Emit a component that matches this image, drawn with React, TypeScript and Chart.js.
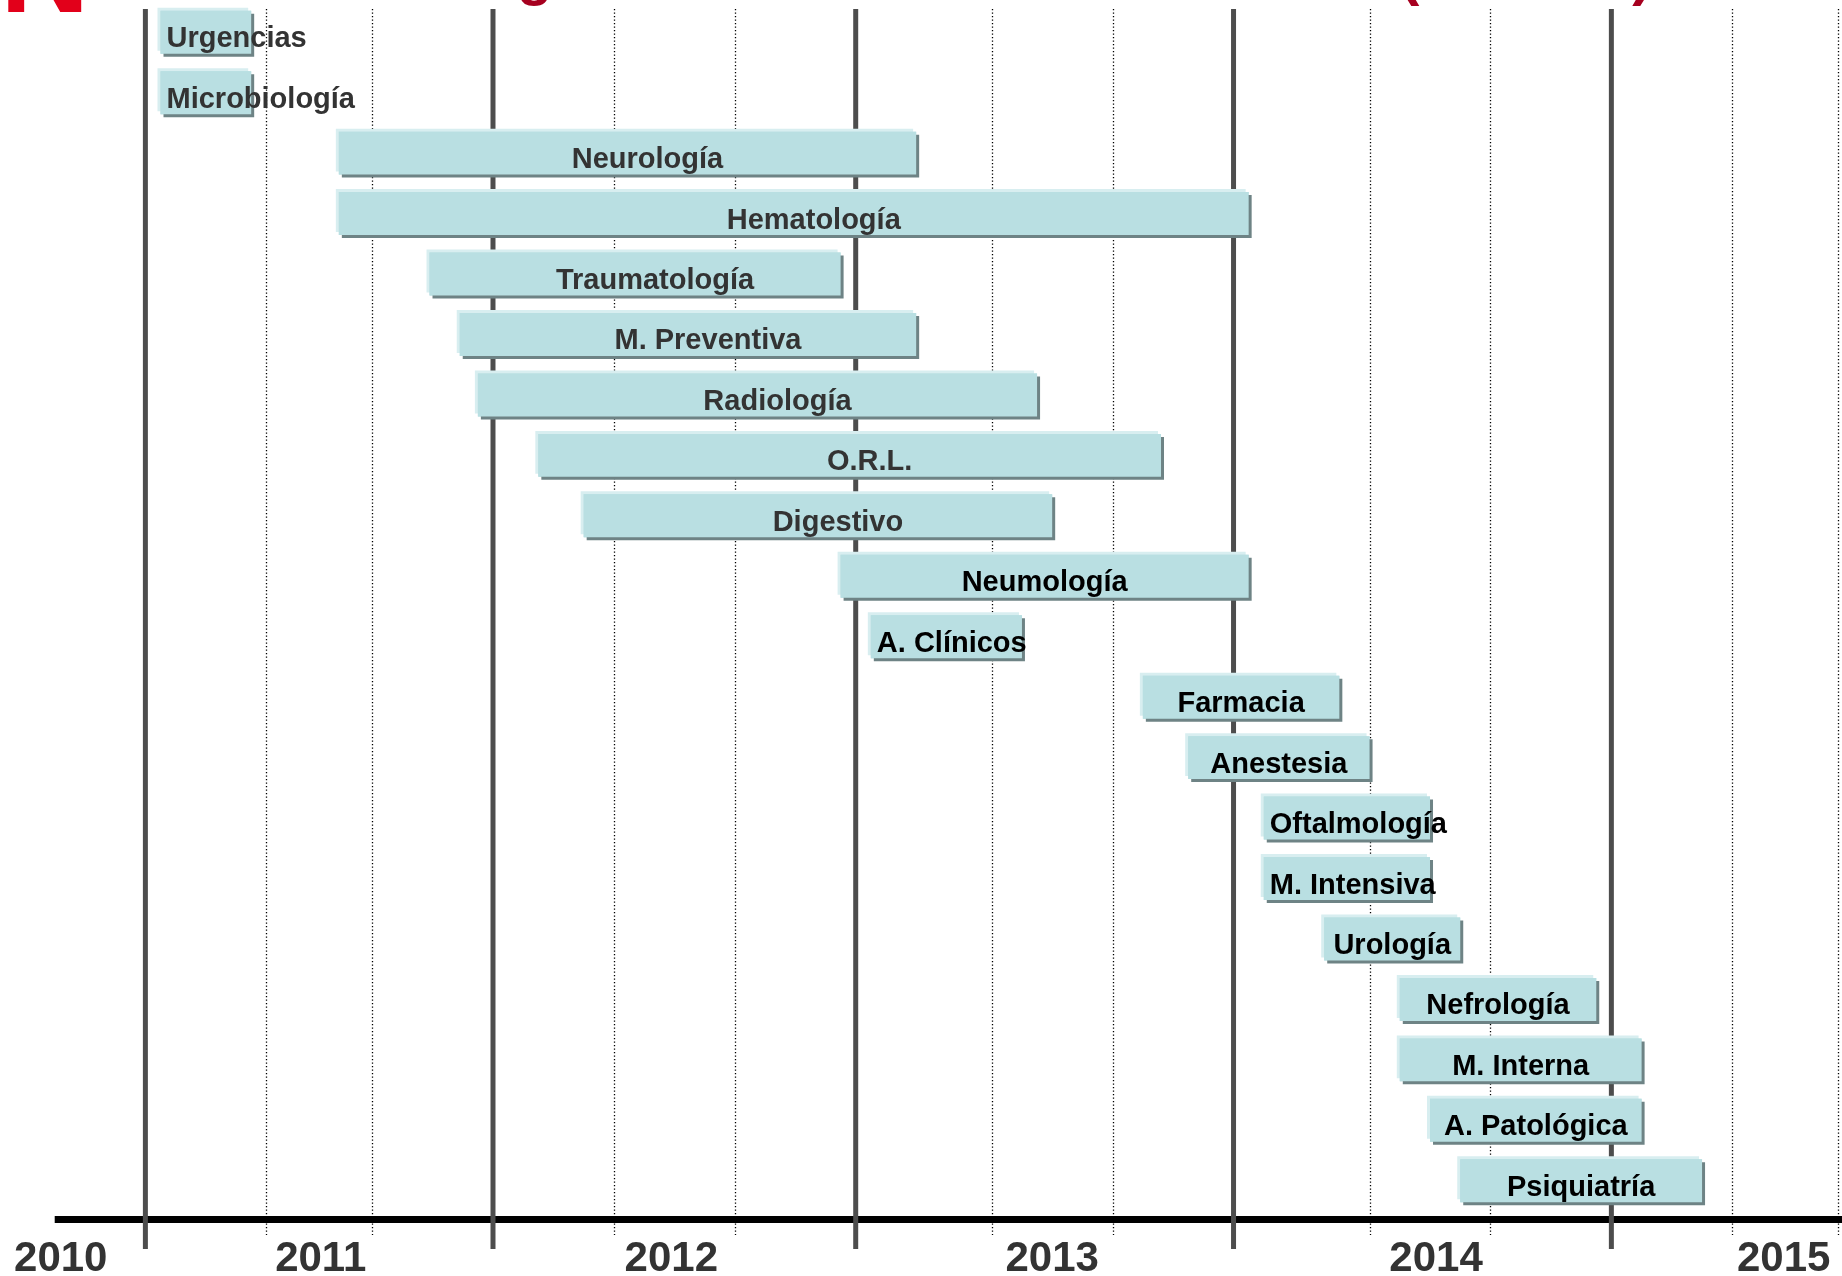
import React, { useEffect, useRef } from 'react';
import { Chart, registerables } from 'chart.js';

Chart.register(...registerables);

// Services on the timeline (top to bottom)
const SERVICES = [
  'Urgencias', 'Microbiología', 'Neurología', 'Hematología', 'Traumatología',
  'M. Preventiva', 'Radiología', 'O.R.L.', 'Digestivo', 'Neumología',
  'A. Clínicos', 'Farmacia', 'Anestesia', 'Oftalmología', 'M. Intensiva',
  'Urología', 'Nefrología', 'M. Interna', 'A. Patológica', 'Psiquiatría',
];
// Start / end of each bar, in timeline months (0 = start of 2010)
const START = [12.5, 12.5, 18.4, 18.4, 21.4, 22.4, 23.0, 25.0, 26.5, 35.0, 36.0, 45.0, 46.5, 49.0, 49.0, 51.0, 53.5, 53.5, 54.5, 55.5];
const END = [15.5, 15.5, 37.5, 48.5, 35.0, 37.5, 41.5, 45.6, 42.0, 48.5, 41.0, 51.5, 52.5, 54.5, 54.5, 55.5, 60.0, 61.5, 61.5, 63.5];

// Axis labels and grid
const YEAR_LABELS = ['2010', '2011', '2012', '2013', '2014', '2015'];
const YEAR_TICKS = [9.2, 17.8, 29.4, 42.0, 54.7, 66.2];
const MAJOR_LINES = [12, 23.5, 35.5, 48, 60.5];
const MINOR_LINES = [16, 19.5, 27.5, 31.5, 40, 44, 52.5, 56.5, 64.5, 68];
const AXIS_START = 9;
const X_MIN = 7.19;
const X_MAX = 68.13;

const FONT = "'Liberation Sans', Arial, Helvetica, sans-serif";
const GRAY_LABEL_ROWS = 9;

const timelinePlugin = {
  id: 'timelineDecor',
  beforeDatasetsDraw(chart: any) {
    const { ctx, chartArea: ca } = chart;
    const x = chart.scales.x;
    ctx.save();
    // main black axis
    const ax = x.getPixelForValue(AXIS_START);
    ctx.fillStyle = '#000000';
    ctx.fillRect(ax, ca.bottom + 5, ca.right - ax, 7);
    // dotted minor lines
    ctx.strokeStyle = '#000000';
    ctx.lineWidth = 1.3;
    ctx.setLineDash([1.3, 2.2]);
    for (const v of MINOR_LINES) {
      const px = Math.round(x.getPixelForValue(v)) + 0.5;
      ctx.beginPath();
      ctx.moveTo(px, ca.top + 7);
      ctx.lineTo(px, ca.bottom + 24);
      ctx.stroke();
    }
    ctx.setLineDash([]);
    // solid major lines
    ctx.strokeStyle = '#4d4d4d';
    ctx.lineWidth = 5;
    for (const v of MAJOR_LINES) {
      const px = x.getPixelForValue(v);
      ctx.beginPath();
      ctx.moveTo(px, ca.top + 7);
      ctx.lineTo(px, ca.bottom + 38);
      ctx.stroke();
    }
    ctx.restore();
  },
  beforeDatasetDraw(chart: any, args: any) {
    const { ctx } = chart;
    const meta = args.meta;
    // light bevel on top/left
    ctx.save();
    ctx.shadowColor = '#d8eef0';
    ctx.shadowBlur = 0;
    ctx.shadowOffsetX = -3;
    ctx.shadowOffsetY = -3;
    meta.data.forEach((el: any) => el.draw(ctx));
    ctx.restore();
    // dark drop shadow for the real draw
    ctx.save();
    ctx.shadowColor = '#6e8385';
    ctx.shadowBlur = 0;
    ctx.shadowOffsetX = 3;
    ctx.shadowOffsetY = 3;
  },
  afterDatasetDraw(chart: any) {
    chart.ctx.restore();
  },
  afterDatasetsDraw(chart: any) {
    const { ctx } = chart;
    const meta = chart.getDatasetMeta(0);
    ctx.save();
    ctx.font = `bold 29px ${FONT}`;
    ctx.textBaseline = 'alphabetic';
    meta.data.forEach((el: any, i: number) => {
      const { x, y, base } = el.getProps(['x', 'y', 'base'], true);
      const left = Math.min(x, base);
      const right = Math.max(x, base);
      const text = SERVICES[i];
      const w = ctx.measureText(text).width;
      const gray = i < GRAY_LABEL_ROWS;
      ctx.fillStyle = gray ? '#333333' : '#000000';
      if (w + 12 > right - left) {
        ctx.textAlign = 'left';
        ctx.fillText(text, left + 6, y + 15);
      } else {
        ctx.textAlign = 'center';
        ctx.fillText(text, (left + right) / 2 + (gray ? 20 : 0), y + 15);
      }
    });
    ctx.restore();
  },
  afterDraw(chart: any) {
    const { ctx, chartArea: ca } = chart;
    const x = chart.scales.x;
    ctx.save();
    // year labels
    ctx.font = `bold 42px ${FONT}`;
    ctx.fillStyle = '#333333';
    ctx.textAlign = 'center';
    ctx.textBaseline = 'alphabetic';
    YEAR_TICKS.forEach((v, i) => {
      ctx.fillText(YEAR_LABELS[i], x.getPixelForValue(v), ca.bottom + 60);
    });
    // title, cut by the top edge of the page
    ctx.textAlign = 'left';
    ctx.fillStyle = '#e2001a';
    ctx.font = `bold 124px ${FONT}`;
    ctx.fillText('N', 0, 12);
    ctx.fillStyle = '#a6001f';
    ctx.font = `bold 58px ${FONT}`;
    const part = 'Integración de servicios';
    const pre = ctx.measureText('Inte').width;
    ctx.fillText(part, 517 - pre, -6);
    ctx.fillText('(2010-14)', 1400, -6);
    ctx.restore();
  },
};

export default function App() {
  const ref = useRef<HTMLCanvasElement | null>(null);

  useEffect(() => {
    document.body.style.overflow = 'hidden';
    const canvas = ref.current;
    if (!canvas) return;
    const chart = new Chart(canvas, {
      type: 'bar',
      data: {
        labels: SERVICES,
        datasets: [
          {
            label: 'Servicios',
            data: SERVICES.map((_, i) => [START[i], END[i]]) as any,
            backgroundColor: '#b9dfe2',
            borderWidth: 0,
            barPercentage: 1,
            categoryPercentage: 0.711,
          },
        ],
      },
      options: {
        indexAxis: 'y',
        responsive: false,
        animation: false,
        devicePixelRatio: 1,
        layout: { padding: { top: 2, bottom: 65, left: 0, right: 0 } },
        scales: {
          x: { type: 'linear', min: X_MIN, max: X_MAX, display: false },
          y: { type: 'category', display: false },
        },
        plugins: {
          legend: { display: false },
          tooltip: { enabled: false },
        },
      },
      plugins: [timelinePlugin],
    });
    return () => chart.destroy();
  }, []);

  return (
    <div style={{ position: 'absolute', left: 0, top: 0, width: 1842, height: 1276, overflow: 'hidden', background: '#ffffff' }}>
      <canvas ref={ref} width={1842} height={1276} style={{ display: 'block' }} />
    </div>
  );
}
